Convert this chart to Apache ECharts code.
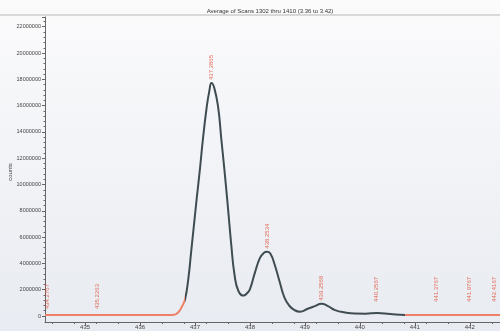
<!DOCTYPE html>
<html>
<head>
<meta charset="utf-8">
<script src="https://cdn.jsdelivr.net/npm/echarts@6/dist/echarts.min.js"></script>
<style>
  html, body { margin: 0; padding: 0; }
  #chart { width: 500px; height: 331px; }
</style>
</head>
<body>
<div id="chart"></div>
<script>
// spectrum trace, m/z and counts in millions
const mz = [434.27, 434.8, 435.5, 436.0, 436.5, 436.62, 436.7, 436.76, 436.82, 436.88,
  436.93, 436.98, 437.03, 437.09, 437.14, 437.21, 437.26, 437.30, 437.35, 437.42,
  437.48, 437.54, 437.60, 437.66, 437.72, 437.79, 437.88, 437.95, 438.0, 438.09,
  438.18, 438.25, 438.31, 438.37, 438.45, 438.54, 438.63, 438.72, 438.81, 438.91,
  439.05, 439.18, 439.30, 439.42, 439.55, 439.73, 439.91, 440.1, 440.32, 440.55,
  440.82, 441.5, 442.55]
const counts = [0.08, 0.08, 0.08, 0.08, 0.08, 0.1, 0.3, 0.7, 1.3, 2.9,
  4.9, 6.9, 8.9, 11.2, 13.3, 15.8, 17.1, 17.72, 17.35, 15.9,
  13.4, 10.9, 8.2, 5.4, 3.1, 1.9, 1.55, 1.75, 2.05, 3.3,
  4.4, 4.8, 4.89, 4.75, 3.9, 2.6, 1.37, 0.76, 0.45, 0.33,
  0.55, 0.75, 0.93, 0.75, 0.45, 0.27, 0.19, 0.18, 0.23, 0.15,
  0.08, 0.08, 0.08]

// peak annotations
const peakMz = [434.32, 435.23, 437.30, 438.31, 439.30, 440.30, 441.39, 441.99, 442.44]
const peakAt = [0.3, 0.3, 17.72, 4.89, 0.93, 0.84, 0.84, 0.84, 0.84]
const peakText = ['434.2767', '435.2263', '437.2865', '438.2534', '439.2568',
  '440.2567', '441.3767', '441.9767', '442.4167']

const xTicks = [435, 436, 437, 438, 439, 440, 441, 442]
const title = 'Average of Scans 1302 thru 1410 (3.36 to 3.42)'
const yName = 'counts'
const M = 1000000

const chart = echarts.init(document.getElementById('chart'))

chart.setOption({
  animation: false,
  backgroundColor: {
    type: 'linear', x: 0, y: 0, x2: 0, y2: 1,
    colorStops: [{ offset: 0, color: '#fbfbfc' }, { offset: 1, color: '#e8ebf1' }]
  },
  title: {
    text: title,
    left: 265,
    textAlign: 'center',
    top: 3,
    textStyle: { fontSize: 6, fontWeight: 'normal', color: '#333', fontFamily: 'Liberation Sans' }
  },
  graphic: [
    { type: 'line', shape: { x1: 0, y1: 15, x2: 500, y2: 15 }, style: { stroke: '#b9b6b6', lineWidth: 1 } },
    { type: 'line', shape: { x1: 45.5, y1: 316, x2: 45.5, y2: 322 }, style: { stroke: '#666', lineWidth: 1 } },
    {
      type: 'text', x: 10, y: 172, rotation: Math.PI / 2,
      style: { text: yName, fontSize: 6, fill: '#444', align: 'center', verticalAlign: 'middle', fontFamily: 'Liberation Sans' }
    }
  ],
  grid: { left: 45, right: 0, top: 17, bottom: 15, outerBoundsMode: 'none' },
  visualMap: {
    show: false,
    type: 'piecewise',
    dimension: 0,
    seriesIndex: 0,
    pieces: [
      { lt: 436.82, color: '#ef8068' },
      { gte: 436.82, lt: 440.82, color: '#3f4d52' },
      { gte: 440.82, color: '#ef8068' }
    ]
  },
  xAxis: {
    type: 'value',
    min: 434.27,
    max: 442.55,
    offset: 6,
    axisLine: { onZero: false, lineStyle: { color: '#666' } },
    axisTick: { length: 4, lineStyle: { color: '#666' }, customValues: xTicks },
    minorTick: { show: true, splitNumber: 5, length: 2, lineStyle: { color: '#666' } },
    splitLine: { show: false },
    axisLabel: {
      customValues: xTicks,
      fontSize: 6, color: '#444', margin: 2, fontFamily: 'Liberation Sans'
    }
  },
  yAxis: {
    type: 'value',
    min: 0,
    max: 22.74 * M,
    interval: 2 * M,
    axisLine: { show: true, lineStyle: { color: '#666' } },
    axisTick: { show: true, length: 3, lineStyle: { color: '#666' } },
    minorTick: { show: true, splitNumber: 5, length: 1.5, lineStyle: { color: '#666' } },
    splitLine: { show: false },
    axisLabel: {
      fontSize: 5.5, color: '#444', margin: 4, fontFamily: 'Liberation Sans',
      showMaxLabel: false,
      formatter: v => String(v)
    }
  },
  series: [
    {
      type: 'line',
      data: mz.map((x, i) => [x, counts[i] * M]),
      smooth: 0.5,
      showSymbol: false,
      lineStyle: { width: 2 }
    },
    {
      type: 'scatter',
      symbolSize: 0,
      data: peakMz.map((x, i) => [x, peakAt[i] * M]),
      label: {
        show: true,
        position: 'top',
        distance: 3,
        rotate: 90,
        align: 'left',
        verticalAlign: 'middle',
        fontSize: 6,
        color: '#e4492f',
        fontFamily: 'Liberation Sans',
        formatter: p => peakText[p.dataIndex]
      }
    }
  ]
})
</script>
</body>
</html>
